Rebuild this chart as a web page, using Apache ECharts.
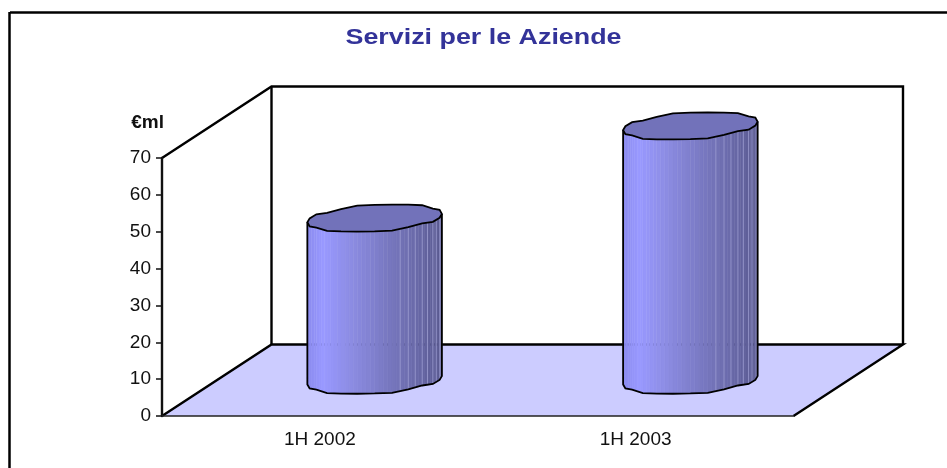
<!DOCTYPE html>
<html>
<head>
<meta charset="utf-8">
<style>html,body{margin:0;padding:0;background:#fff}#c{width:947px;height:468px}</style>
<script src="https://cdn.jsdelivr.net/npm/echarts@6/dist/echarts.min.js"></script>
</head>
<body>
<div id="c"></div>
<script>
var titleText = 'Servizi per le Aziende';
var unitLabel = '€ml';
var categories = ['1H 2002', '1H 2003'];
var values = [44, 69];
var axisMax = 70;
var axisStep = 10;

var DEPTH_X = 109.5, DEPTH_Y = -71.5;
var shade = [[0,[138,138,238]],[0.12,[153,153,255]],[0.35,[138,138,224]],[0.6,[120,120,192]],[0.8,[106,106,170]],[1,[90,90,144]]];
function shadeAt(f){
  for (var i=1;i<shade.length;i++){
    if (f<=shade[i][0]){
      var a=shade[i-1],b=shade[i],k=(f-a[0])/(b[0]-a[0]);
      return 'rgb('+[0,1,2].map(function(c){return Math.round(a[1][c]+(b[1][c]-a[1][c])*k);}).join(',')+')';
    }
  }
  return 'rgb(90,90,144)';
}
function renderBox(params, api){
  var g = params.coordSys, x0=g.x, x1=g.x+g.width, yT=g.y, yB=g.y+g.height;
  var dx=DEPTH_X, dy=DEPTH_Y, line={stroke:'#000',lineWidth:2.4,fill:null};
  return {type:'group',children:[
    {type:'polygon',shape:{points:[[x0,yB],[x1,yB],[x1+dx,yB+dy],[x0+dx,yB+dy]]},style:{fill:'#ccccff',stroke:null}},
    {type:'polyline',shape:{points:[[x0,yB],[x0+dx,yB+dy],[x1+dx,yB+dy],[x1,yB]]},style:line},
    {type:'polyline',shape:{points:[[x0,yT],[x0+dx,yT+dy],[x1+dx,yT+dy],[x1+dx,yB+dy]]},style:line},
    {type:'line',shape:{x1:x0+dx,y1:yT+dy,x2:x0+dx,y2:yB+dy},style:{stroke:'#000',lineWidth:2.4}}
  ]};
}
function renderColumn(params, api){
  var idx=api.value(0), v=api.value(1);
  var base=api.coord([idx,0]), top=api.coord([idx,v]), band=api.size([1,0])[0];
  var cx=base[0]+DEPTH_X/2, by=base[1]+DEPTH_Y/2, ty=top[1]+DEPTH_Y/2;
  var a=band*0.2027, b=DEPTH_X*0.189, c=-DEPTH_Y*0.189;
  var t0=Math.atan2(b,a)+Math.PI, SEG=24, HALF=SEG/2, STEP=4.5;
  function vertex(k,cy){
    var t=t0+k*2*Math.PI/SEG, off=-c*Math.sin(t);
    var blend=(k%HALF===0)?off:0.55*Math.round(off/STEP)*STEP+0.45*off;
    return [cx+a*Math.cos(t)+b*Math.sin(t), cy+blend];
  }
  function edge(u,cy){
    var k=Math.floor(u), f=u-k, p=vertex(k,cy), q=vertex(k+1,cy);
    return [p[0]+(q[0]-p[0])*f, p[1]+(q[1]-p[1])*f];
  }
  var kids=[], n=HALF*4, xl=cx-Math.hypot(a,b), w=2*Math.hypot(a,b);
  for (var i=0;i<n;i++){
    var u0=i/4, u1=(i+1)/4;
    var pt=edge(u0,ty), qt=edge(u1,ty), pb=edge(u0,by), qb=edge(u1,by);
    var f=((pt[0]+qt[0])/2-xl)/w, col=shadeAt(f);
    kids.push({type:'polygon',shape:{points:[pt,qt,qb,pb]},style:{fill:col,stroke:col,lineWidth:0.5}});
    if (i%2===0 && i>0 && (pt[0]-xl)/w>0.66){
      kids.push({type:'line',shape:{x1:pt[0],y1:pt[1],x2:pb[0],y2:pb[1]},style:{stroke:'#9c9cd0',lineWidth:0.8}});
    }
  }
  var out=[], rim=[];
  for (var k=0;k<=HALF;k++) out.push(vertex(k,by));
  for (var m=0;m<SEG;m++) rim.push(vertex(m,ty));
  out.unshift(vertex(0,ty)); out.push(vertex(HALF,ty));
  kids.push({type:'polyline',shape:{points:out},style:{stroke:'#000',lineWidth:1.8,fill:null}});
  kids.push({type:'polygon',shape:{points:rim},style:{fill:'#7272ba',stroke:'#000',lineWidth:1.8}});
  return {type:'group',children:kids};
}
var chart = echarts.init(document.getElementById('c'), null, {renderer:'canvas'});
chart.setOption({
  animation:false,
  backgroundColor:'#fff',
  grid:{left:162,top:158,width:631.5,height:258},
  graphic:[
    {type:'line',shape:{x1:10,y1:12.5,x2:947,y2:12.5},style:{stroke:'#000',lineWidth:2.5}},
    {type:'line',shape:{x1:9.5,y1:12,x2:9.5,y2:468},style:{stroke:'#000',lineWidth:2.5}},
    {type:'text',x:483.5,y:38,scaleX:1.22,style:{text:titleText,textAlign:'center',textVerticalAlign:'middle',
      font:'bold 22px "Liberation Sans"',fill:'#333399'}}
  ],
  xAxis:{type:'category',data:categories,z:5,
    axisLine:{show:true,lineStyle:{color:'#222',width:1.5}},axisTick:{show:false},
    axisLabel:{fontFamily:'Liberation Sans',fontSize:19,color:'#111',margin:14}},
  yAxis:{type:'value',min:0,max:axisMax,interval:axisStep,splitLine:{show:false},z:5,
    name:unitLabel,nameLocation:'end',nameGap:26,
    nameTextStyle:{fontFamily:'Liberation Sans',fontSize:19,fontWeight:'bold',color:'#111',align:'right',padding:[0,-2,0,0]},
    axisLine:{show:true,lineStyle:{color:'#111',width:2.4}},
    axisTick:{show:true,length:6,lineStyle:{color:'#111',width:1.5}},
    axisLabel:{fontFamily:'Liberation Sans',fontSize:19,color:'#111',margin:11}},
  series:[
    {type:'custom',coordinateSystem:'cartesian2d',renderItem:renderBox,data:[[0,0]],clip:false,silent:true,z:1},
    {type:'custom',coordinateSystem:'cartesian2d',renderItem:renderColumn,clip:false,silent:true,z:3,
     encode:{x:0,y:1},data:values.map(function(v,i){return [i,v];})}
  ]
});
</script>
</body>
</html>
